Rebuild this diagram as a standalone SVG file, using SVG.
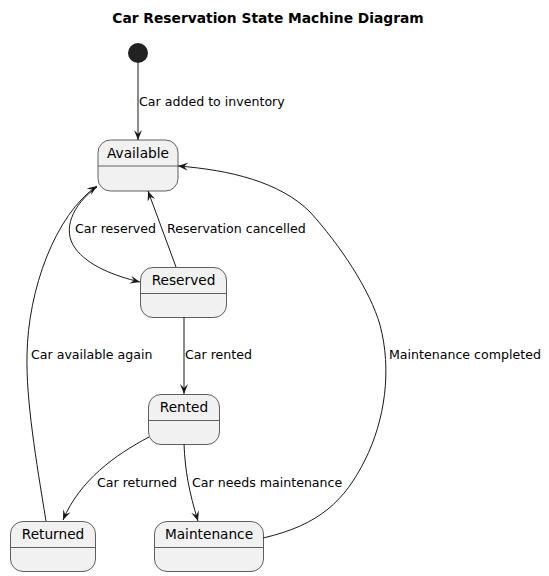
<svg xmlns="http://www.w3.org/2000/svg" width="549" height="576" viewBox="0 0 549 576">
<defs>
<style>
.st rect{fill:#F1F1F1;stroke:#5E5E5E;stroke-width:1}
.st line{stroke:#5E5E5E;stroke-width:1}
.nm{font-family:"DejaVu Sans",sans-serif;font-size:13.7px;fill:#000;text-anchor:middle}
.lb{font-family:"DejaVu Sans",sans-serif;font-size:12.6px;fill:#000}
.ttl{font-family:"DejaVu Sans",sans-serif;font-size:13.8px;font-weight:bold;fill:#000;text-anchor:middle}
#edges path,#edges line{fill:none;stroke:#181818;stroke-width:1;marker-end:url(#ah)}
</style>
<marker id="ah" viewBox="0 0 10 10" refX="10" refY="5" markerWidth="10" markerHeight="10" markerUnits="userSpaceOnUse" orient="auto">
<path d="M0,1 L10,5 L0,9 L4,5 Z" fill="#181818"/>
</marker>
</defs>
<rect width="549" height="576" fill="#FFFFFF"/>
<text class="ttl" x="268" y="23">Car Reservation State Machine Diagram</text>
<g id="start"><circle cx="138" cy="53" r="10" fill="#222222"/></g>
<g id="available" class="st"><rect x="98" y="140" width="80" height="51" rx="12.5"/><line x1="98" y1="166" x2="178" y2="166"/><text class="nm" x="138" y="158">Available</text></g>
<g id="reserved" class="st"><rect x="140.5" y="267.5" width="86" height="50" rx="12.5"/><line x1="140.5" y1="293.5" x2="226.5" y2="293.5"/><text class="nm" x="183.5" y="285">Reserved</text></g>
<g id="rented" class="st"><rect x="148.5" y="394.5" width="71" height="50" rx="12.5"/><line x1="148.5" y1="420.5" x2="219.5" y2="420.5"/><text class="nm" x="184" y="412">Rented</text></g>
<g id="returned" class="st"><rect x="10.5" y="521.5" width="85" height="50" rx="12.5"/><line x1="10.5" y1="547.5" x2="95.5" y2="547.5"/><text class="nm" x="53" y="539">Returned</text></g>
<g id="maintenance" class="st"><rect x="154.5" y="521.5" width="109" height="50" rx="12.5"/><line x1="154.5" y1="547.5" x2="263.5" y2="547.5"/><text class="nm" x="209" y="539">Maintenance</text></g>
<g id="edges">
<line x1="138" y1="63" x2="138" y2="140"/>
<path d="M97,187 C72,205 62,230 75,248 C88,266 115,276 140,282"/>
<line x1="176" y1="267" x2="148" y2="191"/>
<line x1="184" y1="317" x2="184" y2="394"/>
<path d="M149,437 C115,455 80,480 63,520"/>
<path d="M184,444 C185,470 189,492 198,521"/>
<path d="M46,521 C36,460 26,400 27,355 C28,290 55,215 97,186"/>
<path d="M263,538 C320,525 345,500 365,460 C385,420 392,370 380,325 C370,290 340,245 310,212 C280,182 230,170 178,166"/>
</g>
<g id="labels">
<text class="lb" x="139" y="106">Car added to inventory</text>
<text class="lb" x="75" y="233">Car reserved</text>
<text class="lb" x="167" y="233">Reservation cancelled</text>
<text class="lb" x="185" y="359">Car rented</text>
<text class="lb" x="31" y="359">Car available again</text>
<text class="lb" x="389" y="359">Maintenance completed</text>
<text class="lb" x="97" y="487">Car returned</text>
<text class="lb" x="192" y="487">Car needs maintenance</text>
</g>
</svg>
